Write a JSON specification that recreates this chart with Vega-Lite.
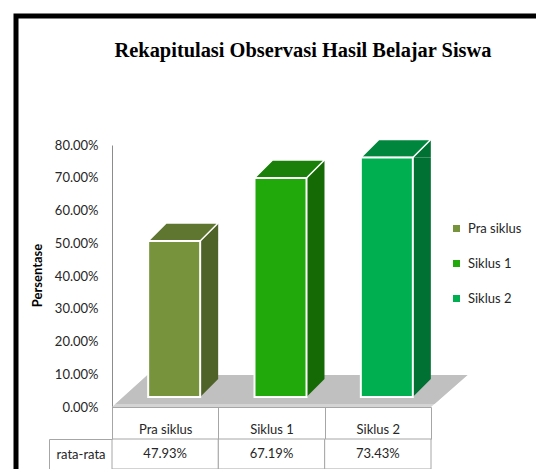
{
  "$schema": "https://vega.github.io/schema/vega-lite/v6.json",
  "width": 520,
  "height": 453,
  "autosize": {"type": "none"},
  "padding": {"left": 16, "top": 16, "right": 0, "bottom": 0},
  "background": "white",
  "title": {
    "text": "Rekapitulasi Observasi Hasil Belajar Siswa",
    "font": "Liberation Serif",
    "fontSize": 20.4,
    "fontWeight": "bold",
    "color": "#000000",
    "anchor": "middle",
    "frame": "group",
    "dx": 27,
    "dy": 55
  },
  "data": {
    "values": [
      {"cat": "Pra siklus", "stat": "rata-rata", "value": 0.4793},
      {"cat": "Siklus 1", "stat": "rata-rata", "value": 0.6719},
      {"cat": "Siklus 2", "stat": "rata-rata", "value": 0.7343}
    ]
  },
  "layer": [
    {
      "data": {"values": [{"floor": "floor"}]},
      "mark": {"type": "point", "filled": true, "opacity": 1, "size": 4, "color": "#d4d4d4",
               "shape": "M-159.5,0L159.5,0L196,-32L-124,-32Z"},
      "encoding": {
        "x": {"datum": "Siklus 1", "type": "nominal", "axis": null},
        "y": {"datum": 0, "type": "quantitative", "axis": null,
              "scale": {"domain": [0, 0.8], "range": [391, 129], "nice": false}}
      }
    },
    {
      "data": {"values": [{"floor": "floor"}]},
      "mark": {"type": "point", "filled": true, "opacity": 1, "size": 4, "color": "#c0c0c0",
               "shape": "M-156,-3L163,-3L196,-32L-124,-32Z"},
      "encoding": {
        "x": {"datum": "Siklus 1", "type": "nominal", "axis": null},
        "y": {"datum": 0, "type": "quantitative", "axis": null,
              "scale": {"domain": [0, 0.8], "range": [391, 129], "nice": false}}
      }
    },
    {
      "mark": {"type": "bar", "width": 18, "xOffset": 44, "yOffset": -9, "y2Offset": -28},
      "encoding": {
        "x": {"field": "cat", "type": "nominal", "axis": null},
        "y": {"field": "value", "type": "quantitative", "axis": null,
              "scale": {"domain": [0, 0.8], "range": [391, 129], "nice": false}},
        "y2": {"datum": 0},
        "color": {"field": "cat", "type": "nominal", "legend": null,
                  "scale": {"range": ["#4f6228", "#166a06", "#007033"]}}
      }
    },
    {
      "mark": {"type": "point", "filled": true, "opacity": 1, "size": 4, "shape": "M35,-9L53,-27L53,-9Z"},
      "encoding": {
        "x": {"field": "cat", "type": "nominal", "axis": null},
        "y": {"field": "value", "type": "quantitative", "axis": null,
              "scale": {"domain": [0, 0.8], "range": [391, 129], "nice": false}},
        "color": {"field": "cat", "type": "nominal", "legend": null,
                  "scale": {"range": ["#4f6228", "#166a06", "#007033"]}}
      }
    },
    {
      "mark": {"type": "point", "filled": true, "opacity": 1, "size": 4, "shape": "M35,-28L53,-28L35,-10Z"},
      "encoding": {
        "x": {"field": "cat", "type": "nominal", "axis": null},
        "y": {"datum": 0, "type": "quantitative", "axis": null,
              "scale": {"domain": [0, 0.8], "range": [391, 129], "nice": false}},
        "color": {"field": "cat", "type": "nominal", "legend": null,
                  "scale": {"range": ["#4f6228", "#166a06", "#007033"]}}
      }
    },
    {
      "mark": {"type": "point", "filled": true, "opacity": 1, "size": 4, "stroke": "white", "strokeWidth": 1.5,
               "shape": "M-17,-9L35,-9L53,-27L1,-27Z"},
      "encoding": {
        "x": {"field": "cat", "type": "nominal", "axis": null},
        "y": {"field": "value", "type": "quantitative", "axis": null,
              "scale": {"domain": [0, 0.8], "range": [391, 129], "nice": false}},
        "color": {"field": "cat", "type": "nominal", "legend": null,
                  "scale": {"range": ["#5f7630", "#1a800a", "#00873d"]}}
      }
    },
    {
      "mark": {"type": "bar", "width": 52, "xOffset": 9, "yOffset": -9, "y2Offset": -10, "stroke": "white", "strokeWidth": 2},
      "encoding": {
        "x": {"field": "cat", "type": "nominal", "sort": null,
              "scale": {"range": [96, 415], "paddingInner": 0, "paddingOuter": 0},
              "axis": {"orient": "bottom", "offset": -62, "title": null, "labelAngle": 0,
                       "tickBand": "extent", "tickSize": 32, "tickColor": "#a6a6a6", "domainColor": "#a6a6a6",
                       "labelPadding": -10, "labelBaseline": "middle", "labelFontSize": 13, "labelColor": "#262626"}},
        "y": {"field": "value", "type": "quantitative",
              "scale": {"domain": [0, 0.8], "range": [391, 129], "nice": false},
              "axis": {"orient": "left", "offset": -96, "format": ".2%",
                       "values": [0, 0.1, 0.2, 0.3, 0.4, 0.5, 0.6, 0.7, 0.8],
                       "ticks": false, "grid": false, "domainColor": "#8c8c8c",
                       "labelPadding": 14, "labelFontSize": 13, "labelColor": "#262626",
                       "title": "Persentase", "titleFontSize": 13, "titleFontWeight": "bold", "titleColor": "#000000",
                       "titleX": -75, "titleY": 259, "titleAngle": -90, "titleAlign": "center", "titleBaseline": "middle"}},
        "y2": {"datum": 0},
        "color": {"field": "cat", "type": "nominal",
                  "scale": {"range": ["#77933c", "#21a80b", "#00b050"]},
                  "legend": {"orient": "none", "legendX": 434, "legendY": 206, "title": null,
                             "symbolType": "square", "symbolSize": 49, "symbolStrokeWidth": 0,
                             "labelFontSize": 13, "labelColor": "#262626", "rowPadding": 21, "labelOffset": 5, "padding": 0}}
      }
    },
    {
      "mark": {"type": "rect", "fill": "white", "stroke": "#a6a6a6", "strokeWidth": 1},
      "encoding": {
        "x": {"field": "cat", "type": "nominal", "axis": null},
        "y": {"field": "stat", "type": "nominal",
              "scale": {"range": [423, 453], "paddingInner": 0, "paddingOuter": 0},
              "axis": {"orient": "left", "offset": -96, "title": null, "domain": false,
                       "tickBand": "extent", "tickSize": 63, "tickColor": "#a6a6a6",
                       "labelAlign": "center", "labelPadding": -31.5, "labelBaseline": "middle",
                       "labelFontSize": 13, "labelColor": "#262626"}}
      }
    },
    {
      "mark": {"type": "text", "fontSize": 13, "color": "#262626", "baseline": "middle"},
      "encoding": {
        "x": {"field": "cat", "type": "nominal", "axis": null},
        "y": {"field": "stat", "type": "nominal",
              "scale": {"range": [423, 453], "paddingInner": 0, "paddingOuter": 0},
              "axis": {"orient": "left", "offset": -33, "title": null, "domain": true, "domainColor": "#a6a6a6",
                       "labels": false, "ticks": false}},
        "text": {"field": "value", "type": "quantitative", "format": ".2%"}
      }
    }
  ],
  "resolve": {
    "scale": {"y": "independent", "color": "independent"},
    "axis": {"x": "independent", "y": "independent"}
  },
  "config": {
    "font": "Lato",
    "view": {"stroke": "#000000", "strokeWidth": 5, "strokeDash": [520, 973, 453], "strokeCap": "square", "fill": "white"},
    "axis": {"labelFont": "Lato", "titleFont": "Lato"},
    "legend": {"labelFont": "Lato"}
  }
}
